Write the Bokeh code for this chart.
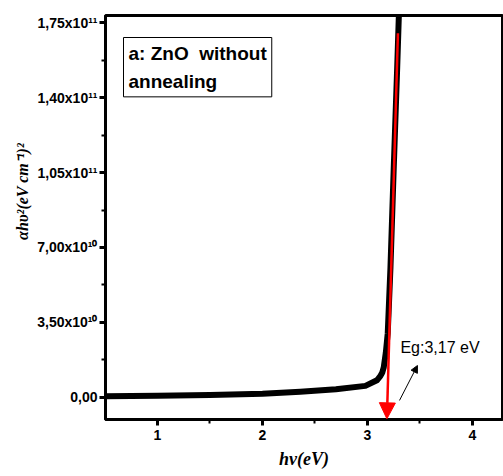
from bokeh.plotting import figure
from bokeh.models import Range1d, FixedTicker, Arrow, NormalHead, Label
from bokeh.embed import file_html
from bokeh.resources import INLINE

# ---- data ----
hv = [0.50, 1.00, 1.50, 2.00, 2.36, 2.70, 2.98, 3.09, 3.12, 3.14, 3.155, 3.175,
      3.193, 3.219, 3.250, 3.283, 3.298, 3.31]
ahv2 = [0.5e9, 0.8e9, 1.1e9, 1.7e9, 2.6e9, 3.8e9, 5.4e9, 8.0e9, 9.8e9, 1.15e10,
        1.4e10, 2.1e10, 3.0e10, 6.07e10, 1.07e11, 1.54e11, 1.77e11, 1.9e11]

x_ticks = [1, 2, 3, 4]
x_tick_labels = ["1", "2", "3", "4"]
x_minor = [1.5, 2.5, 3.5]
y_ticks = [0, 35000000000, 70000000000, 105000000000, 140000000000, 175000000000]
y_tick_labels = ["0,00", "3,50x10\u00b9\u2070", "7,00x10\u00b9\u2070",
                 "1,05x10\u00b9\u00b9", "1,40x10\u00b9\u00b9", "1,75x10\u00b9\u00b9"]
y_minor = [17500000000, 52500000000, 87500000000, 122500000000, 157500000000]

fit_x = [3.29, 3.185]        # red tangent line (start, end)
fit_y = [1.70e11, -1.0e10]
eg_arrow_x = [3.305, 3.476]  # small black arrow (start, end)
eg_arrow_y = [-1.4e9, 1.49e10]
eg_text = "Eg:3,17 eV"
eg_pos = [3.314, 2.35e10]
sample_text = "a: ZnO\u00a0 without\nannealing"

x_label = "h\u03bd(eV)"
y_label = "\u03b1h\u03c5\u00b2(eV cm\u207b\u00b9)\u00b2"

# ---- figure ----
p = figure(width=503, height=476, output_backend="svg", toolbar_location=None,
           x_range=Range1d(0.505, 4.286), y_range=Range1d(-1.03e10, 1.783e11),
           min_border_left=105, min_border_right=1, min_border_top=15,
           min_border_bottom=57)
p.background_fill_color = "white"
p.border_fill_color = "white"
p.outline_line_color = "black"
p.outline_line_width = 3
p.xgrid.visible = False
p.ygrid.visible = False

p.line(hv, ahv2, line_color="black", line_width=6, line_join="round")

p.add_layout(Arrow(end=NormalHead(size=16, fill_color="red", line_color="red", line_width=1),
                   x_start=fit_x[0], y_start=fit_y[0], x_end=fit_x[1], y_end=fit_y[1],
                   line_color="red", line_width=2.5))
p.add_layout(Arrow(end=NormalHead(size=7, fill_color="black", line_color="black", line_width=1),
                   x_start=eg_arrow_x[0], y_start=eg_arrow_y[0],
                   x_end=eg_arrow_x[1], y_end=eg_arrow_y[1],
                   line_color="black", line_width=1))
p.add_layout(Label(x=eg_pos[0], y=eg_pos[1], text=eg_text, text_font="Liberation Sans",
                   text_font_size="16px", text_color="black", text_baseline="alphabetic"))
p.add_layout(Label(x=18, y=382, x_units="screen", y_units="screen", text=sample_text,
                   text_font="Liberation Sans", text_font_style="bold",
                   text_font_size="19px", text_align="left", text_baseline="top",
                   text_line_height=1.35, padding=5, text_color="black",
                   border_line_color="black", border_line_width=1,
                   background_fill_color="white"))

for ax in (p.xaxis[0], p.yaxis[0]):
    ax.axis_line_width = 3
    ax.major_tick_line_width = 3
    ax.minor_tick_line_width = 2
    ax.major_tick_in = 0
    ax.major_tick_out = 6
    ax.minor_tick_in = 0
    ax.minor_tick_out = 4
    ax.major_label_text_font = "Liberation Sans"
    ax.major_label_text_font_style = "bold"
    ax.major_label_text_font_size = "14px"
    ax.major_label_text_color = "black"
    ax.axis_label_text_font = "Liberation Serif"
    ax.axis_label_text_font_style = "bold italic"
    ax.axis_label_text_color = "black"

p.xaxis.ticker = FixedTicker(ticks=x_ticks, minor_ticks=x_minor)
p.xaxis.major_label_overrides = {t: s for t, s in zip(x_ticks, x_tick_labels)}
p.xaxis.axis_label = x_label
p.xaxis.axis_label_text_font_size = "18px"
p.xaxis.major_label_standoff = 4
p.xaxis.axis_label_standoff = 6

p.yaxis.ticker = FixedTicker(ticks=y_ticks, minor_ticks=y_minor)
p.yaxis.major_label_overrides = {t: s for t, s in zip(y_ticks, y_tick_labels)}
p.yaxis.axis_label = "\u00a0" * 13 + y_label
p.yaxis.axis_label_text_font_size = "16px"
p.yaxis.major_label_standoff = 2
p.yaxis.axis_label_standoff = 3

open("out.html", "w").write(file_html(p, INLINE))
